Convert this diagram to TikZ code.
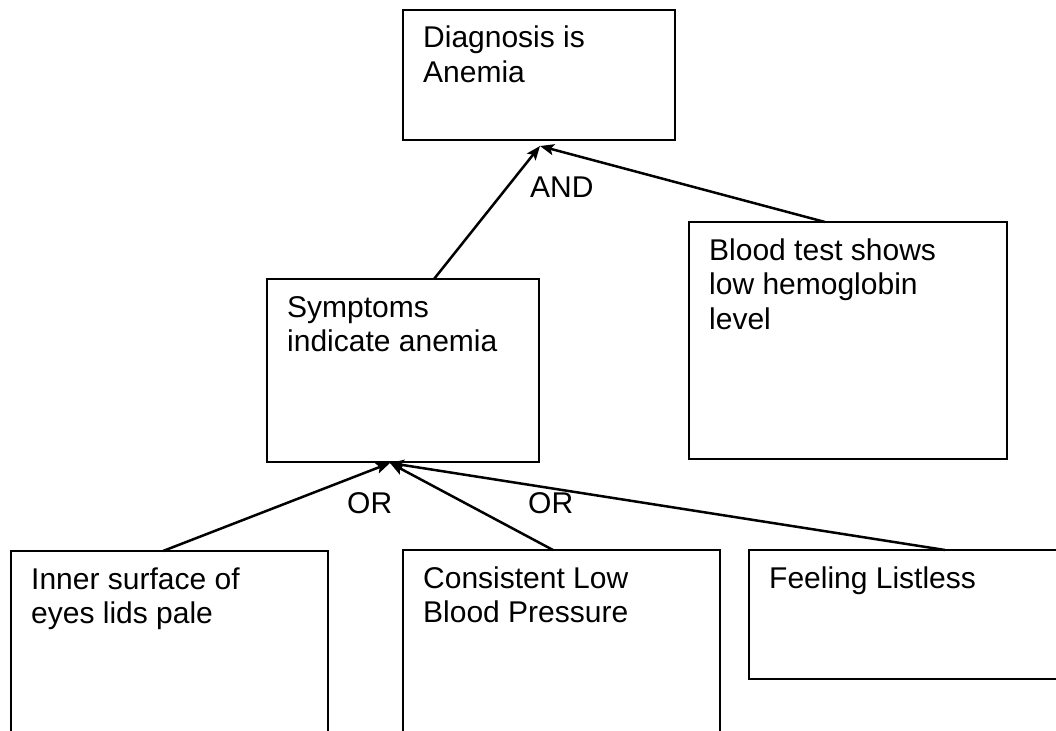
\documentclass[tikz,border=0pt]{standalone}
\usepackage{fontspec}
\setmainfont{Liberation Sans}
\usetikzlibrary{arrows.meta}
\newcommand{\boxfont}{\fontsize{30pt}{34.5pt}\selectfont}
\tikzset{
  box/.style={draw, line width=2.5pt, anchor=north west, inner sep=0pt, outer sep=0pt},
  txt/.style={anchor=base west, inner sep=0pt, font=\boxfont},
  lbl/.style={anchor=base west, inner sep=0pt, font=\boxfont},
  arr/.style={line width=2.5pt, -{Stealth[length=14pt,width=11pt,inset=3pt]}}
}
\begin{document}
\begin{tikzpicture}[x=1pt,y=-1pt]
\useasboundingbox (0,0) rectangle (1056,730);
\fill[white] (0,0) rectangle (1056,730);
\clip (0,0) rectangle (1056,730);

% boxes
\node[box, minimum width=272pt, minimum height=130pt] (diag) at (403,10) {};
\node[box, minimum width=272pt, minimum height=183pt] (symp) at (267,279) {};
\node[box, minimum width=318pt, minimum height=237pt] (blood) at (689,222) {};
\node[box, minimum width=317pt, minimum height=260pt] (inner) at (11,551) {};
\node[box, minimum width=317pt, minimum height=260pt] (cons) at (403,550) {};
\node[box, minimum width=340pt, minimum height=129pt] (feel) at (749,550) {};

% texts
\node[txt] (diagT) at ([xshift=20pt,yshift=-38pt]diag.north west)
  {\parbox[t]{240pt}{\raggedright Diagnosis is\\Anemia}};
\node[txt] (sympT) at ([xshift=20pt,yshift=-38pt]symp.north west)
  {\parbox[t]{240pt}{\raggedright Symptoms\\indicate anemia}};
\node[txt] (bloodT) at ([xshift=20pt,yshift=-38pt]blood.north west)
  {\parbox[t]{280pt}{\raggedright Blood test shows\\low hemoglobin\\level}};
\node[txt] (innerT) at ([xshift=20pt,yshift=-38pt]inner.north west)
  {\parbox[t]{280pt}{\raggedright Inner surface of\\eyes lids pale}};
\node[txt] (consT) at ([xshift=20pt,yshift=-38pt]cons.north west)
  {\parbox[t]{280pt}{\raggedright Consistent Low\\Blood Pressure}};
\node[txt] (feelT) at ([xshift=20pt,yshift=-38pt]feel.north west)
  {\parbox[t]{280pt}{\raggedright Feeling Listless}};

% arrow tips
\coordinate (dtip) at ([xshift=137pt,yshift=-6pt]diag.south west);
\coordinate (stip) at ([xshift=123pt,yshift=-1pt]symp.south west);

% connectors
\draw[arr] ([xshift=167pt]symp.north west) -- (dtip);
\draw[arr] ([xshift=136pt]blood.north west) -- (dtip);
\draw[arr] ([xshift=152pt]inner.north west) -- (stip);
\draw[arr] ([xshift=150pt]cons.north west) -- (stip);
\draw[arr] ([xshift=196pt]feel.north west) -- (stip);

% labels
\node[lbl] (andL) at (530,197) {AND};
\node[lbl] (or1) at (347,513) {OR};
\node[lbl] (or2) at (528,513) {OR};
\end{tikzpicture}
\end{document}
